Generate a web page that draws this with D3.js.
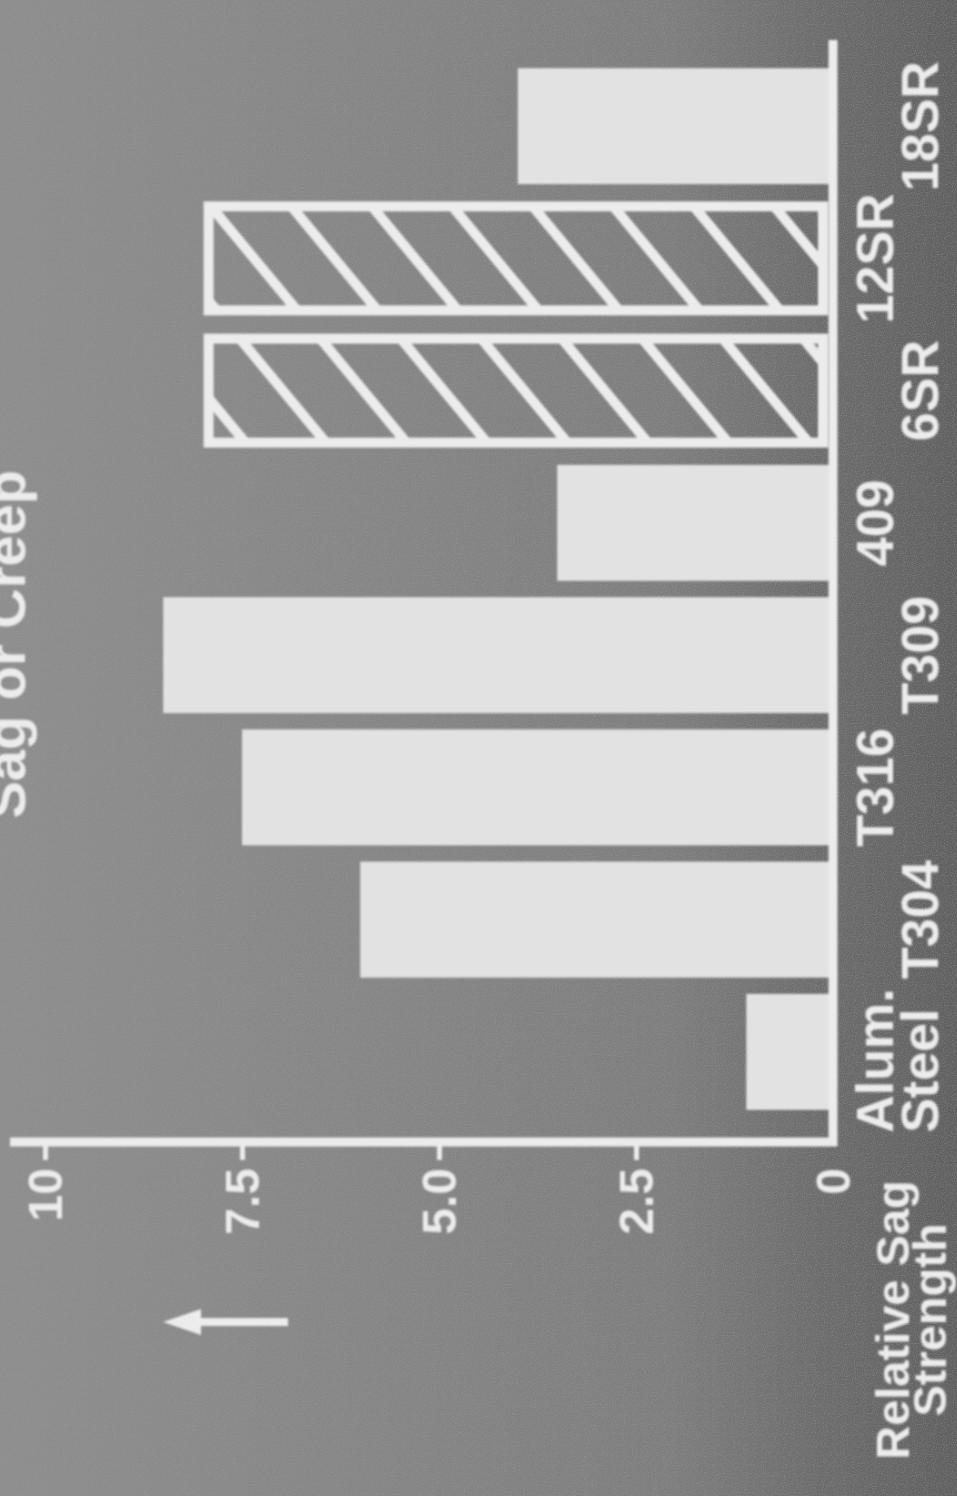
<!DOCTYPE html>
<html><head><meta charset="utf-8">
<script src="https://cdn.jsdelivr.net/npm/d3@7"></script>
<style>html,body{margin:0;padding:0;background:#808080;overflow:hidden;} svg{display:block;}</style>
</head><body>
<script>
// ---- data ----
const categories = ["Alum. Steel", "T304", "T316", "T309", "409", "6SR", "12SR", "18SR"];
const labelLines = [["Alum.", "Steel"], ["T304"], ["T316"], ["T309"], ["409"], ["6SR"], ["12SR"], ["18SR"]];
const values = [1.1, 6.0, 7.5, 8.5, 3.5, 8.0, 8.0, 4.0];
const hatched = [false, false, false, false, false, true, true, false];
const tickValues = [0, 2.5, 5, 7.5, 10];
const tickLabels = ["0", "2.5", "5.0", "7.5", "10"];
const titleText = "Sag or Creep";
const axisLabel = ["Relative Sag", "Strength"];

// ---- setup ----
const W = 957, H = 1496;
const FG = "#ececec", BAR = "#e2e2e2";
const FONT = "'Liberation Sans', Arial, Helvetica, sans-serif";
const svg = d3.select("body").append("svg").attr("width", W).attr("height", H);
const defs = svg.append("defs");

const bg = defs.append("linearGradient").attr("id", "bg").attr("x1", "0").attr("x2", "1").attr("y1", "0").attr("y2", "0");
[[0, "#8e8e8e"], [0.35, "#878787"], [0.7, "#7e7e7e"], [0.86, "#6c6c6c"], [1, "#606060"]]
  .forEach(([o, c]) => bg.append("stop").attr("offset", o).attr("stop-color", c));

const noise = defs.append("filter").attr("id", "noise").attr("x", 0).attr("y", 0).attr("width", "100%").attr("height", "100%");
noise.append("feTurbulence").attr("type", "fractalNoise").attr("baseFrequency", 0.9).attr("numOctaves", 1).attr("seed", 5);
noise.append("feColorMatrix").attr("type", "matrix")
  .attr("values", "0 0 0 0 0.35  0 0 0 0 0.35  0 0 0 0 0.35  2.5 0 0 0 -1.15");

const soft = defs.append("filter").attr("id", "soft");
soft.append("feGaussianBlur").attr("stdDeviation", 0.9);

const hatch = defs.append("pattern").attr("id", "hatch").attr("patternUnits", "userSpaceOnUse")
  .attr("width", 62).attr("height", 62).attr("patternTransform", "rotate(-39.6)");
hatch.append("line").attr("x1", 31).attr("x2", 31).attr("y1", -5).attr("y2", 67)
  .attr("stroke", FG).attr("stroke-width", 10);

svg.append("rect").attr("width", W).attr("height", H).attr("fill", "url(#bg)");
svg.append("rect").attr("width", W).attr("height", H).attr("fill", "#000").attr("filter", "url(#noise)").attr("opacity", 0.5);

const g = svg.append("g").attr("filter", "url(#soft)");

// ---- scales (chart is rotated: values run right-to-left, categories bottom-to-top) ----
const x = d3.scaleLinear().domain([0, 10]).range([833, 45]);
const y = d3.scaleBand().domain(categories).range([1118, 60]).paddingInner(0.123).paddingOuter(0.0615);
const bw = y.bandwidth();
const axisY = 1142;

const data = categories.map((c, i) => ({c, v: values[i], h: hatched[i], lines: labelLines[i], i}));

// bars
g.selectAll("rect.bar").data(data.filter(d => !d.h)).join("rect")
  .attr("class", "bar")
  .attr("x", d => x(d.v)).attr("y", d => y(d.c))
  .attr("width", d => x(0) - 4 - x(d.v)).attr("height", bw)
  .attr("fill", BAR);

g.selectAll("rect.hbar").data(data.filter(d => d.h)).join("rect")
  .attr("class", "hbar")
  .attr("x", d => x(d.v) + 6).attr("y", d => y(d.c) + 6)
  .attr("width", d => x(0) - 4 - x(d.v) - 12).attr("height", bw - 12)
  .attr("fill", "url(#hatch)").attr("stroke", FG).attr("stroke-width", 10);

// axes lines
g.append("line").attr("x1", 10).attr("x2", x(0) + 4).attr("y1", axisY).attr("y2", axisY)
  .attr("stroke", FG).attr("stroke-width", 9);
g.append("line").attr("x1", x(0)).attr("x2", x(0)).attr("y1", 40).attr("y2", axisY + 4)
  .attr("stroke", FG).attr("stroke-width", 9);

// ticks via d3 axis
const ax = g.append("g").attr("transform", `translate(0,${axisY})`)
  .call(d3.axisBottom(x).tickValues(tickValues.filter(t => t > 0)).tickSize(18).tickFormat(""));
ax.select(".domain").remove();
ax.selectAll(".tick line").attr("stroke", FG).attr("stroke-width", 5);

// tick labels (rotated)
g.selectAll("text.tl").data(tickValues).join("text")
  .attr("class", "tl")
  .attr("transform", (t) => `translate(${x(t) + 17},${axisY + 26}) rotate(-90)`)
  .attr("text-anchor", "end")
  .attr("font-family", FONT).attr("font-weight", "bold").attr("font-size", 48)
  .attr("fill", FG)
  .text((t, i) => tickLabels[i]);

// category labels (rotated, staggered in two rows)
const rowBase = [893, 938];
data.forEach(d => {
  d.lines.forEach((txt, k) => {
    const row = d.lines.length > 1 ? k : (d.i % 2);
    const multi = d.lines.length > 1;
    const cy = multi ? y(d.c) + bw + 23 : y(d.c) + bw / 2;
    g.append("text")
      .attr("transform", `translate(${rowBase[row]},${cy}) rotate(-90)`)
      .attr("text-anchor", multi ? "start" : "middle")
      .attr("font-family", FONT).attr("font-weight", "bold").attr("font-size", 52)
      .attr("fill", FG).text(txt);
  });
});

// title (cut off at top edge, as in the source)
g.append("text")
  .attr("transform", `translate(25,470) rotate(-90)`)
  .attr("text-anchor", "end")
  .attr("font-family", FONT).attr("font-weight", "bold").attr("font-size", 56)
  .attr("fill", FG).text(titleText);

// axis label
[909, 946].forEach((bx, k) => {
  g.append("text")
    .attr("transform", `translate(${bx},1320) rotate(-90)`)
    .attr("text-anchor", "middle")
    .attr("font-family", FONT).attr("font-weight", "bold").attr("font-size", 47)
    .attr("fill", FG).text(axisLabel[k]);
});

// arrow pointing toward higher values
const ay = 1322;
g.append("line").attr("x1", 288).attr("x2", 195).attr("y1", ay).attr("y2", ay)
  .attr("stroke", FG).attr("stroke-width", 8);
g.append("path").attr("d", d3.line()([[163, ay], [201, ay - 13], [201, ay + 13]]) + "Z").attr("fill", FG);
</script>
</body></html>
